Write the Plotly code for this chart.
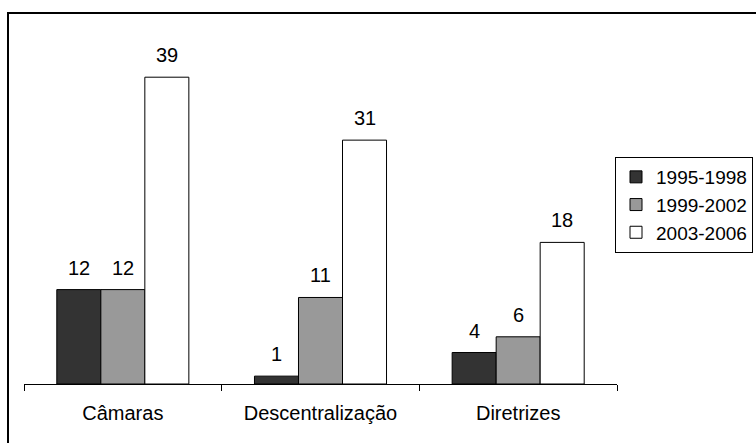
import plotly.graph_objects as go

categories = ["Câmaras", "Descentralização", "Diretrizes"]
series_names = ["1995-1998", "1999-2002", "2003-2006"]
values_1995_1998 = [12, 1, 4]
values_1999_2002 = [12, 11, 6]
values_2003_2006 = [39, 31, 18]
series_values = [values_1995_1998, values_1999_2002, values_2003_2006]
colors = ["#333333", "#999999", "#ffffff"]

W, H = 756, 443
ML, MR, MT, MB = 24, 139, 30, 59
bargap = 0.332
FONT = "Liberation Sans, Arial, sans-serif"
FS = 20

fig = go.Figure()
for name, vals, col in zip(series_names, series_values, colors):
    fig.add_trace(go.Bar(
        x=categories, y=vals, name=name,
        marker=dict(color=col, line=dict(color="black", width=1)),
    ))

plot_w = W - ML - MR
plot_h = H - MT - MB
cat_w = plot_w / len(categories)
bar_w = cat_w * (1 - bargap) / len(series_names)
for i, vals in enumerate(series_values):
    for c, v in zip(categories, vals):
        fig.add_annotation(
            x=c, y=v, text=str(v), showarrow=False,
            xshift=(i - 1) * bar_w, yshift=22, yanchor="middle",
            font=dict(family=FONT, size=FS, color="black"),
        )

# outer frame
fig.add_shape(type="rect", xref="paper", yref="paper",
              x0=(8 - ML) / plot_w, x1=(W + 10 - ML) / plot_w,
              y0=(H - MB - (H + 10)) / plot_h, y1=(H - MB - 13) / plot_h,
              line=dict(color="black", width=2), layer="below")

fig.update_layout(
    width=W, height=H,
    margin=dict(l=ML, r=MR, t=MT, b=MB, autoexpand=False),
    barmode="group", bargap=bargap, bargroupgap=0,
    plot_bgcolor="white", paper_bgcolor="white",
    font=dict(family=FONT, size=FS, color="black"),
    showlegend=True,
    legend=dict(
        xref="container", yref="container",
        x=753 / W, y=(H - 157) / H,
        xanchor="right", yanchor="top",
        bordercolor="black", borderwidth=1, bgcolor="white",
        font=dict(family=FONT, size=19), itemwidth=30,
        tracegroupgap=0,
    ),
    xaxis=dict(
        showline=True, linecolor="black", linewidth=1,
        ticks="outside", tickson="boundaries", ticklen=6, tickcolor="black",
        showgrid=False, zeroline=False, ticklabelstandoff=11,
        tickfont=dict(family=FONT, size=FS),
    ),
    yaxis=dict(
        range=[0, 45], visible=False, showgrid=False, zeroline=False,
    ),
)

fig.write_html("out.html", config={"displayModeBar": False},
               post_script="document.body.style.margin='0';")
